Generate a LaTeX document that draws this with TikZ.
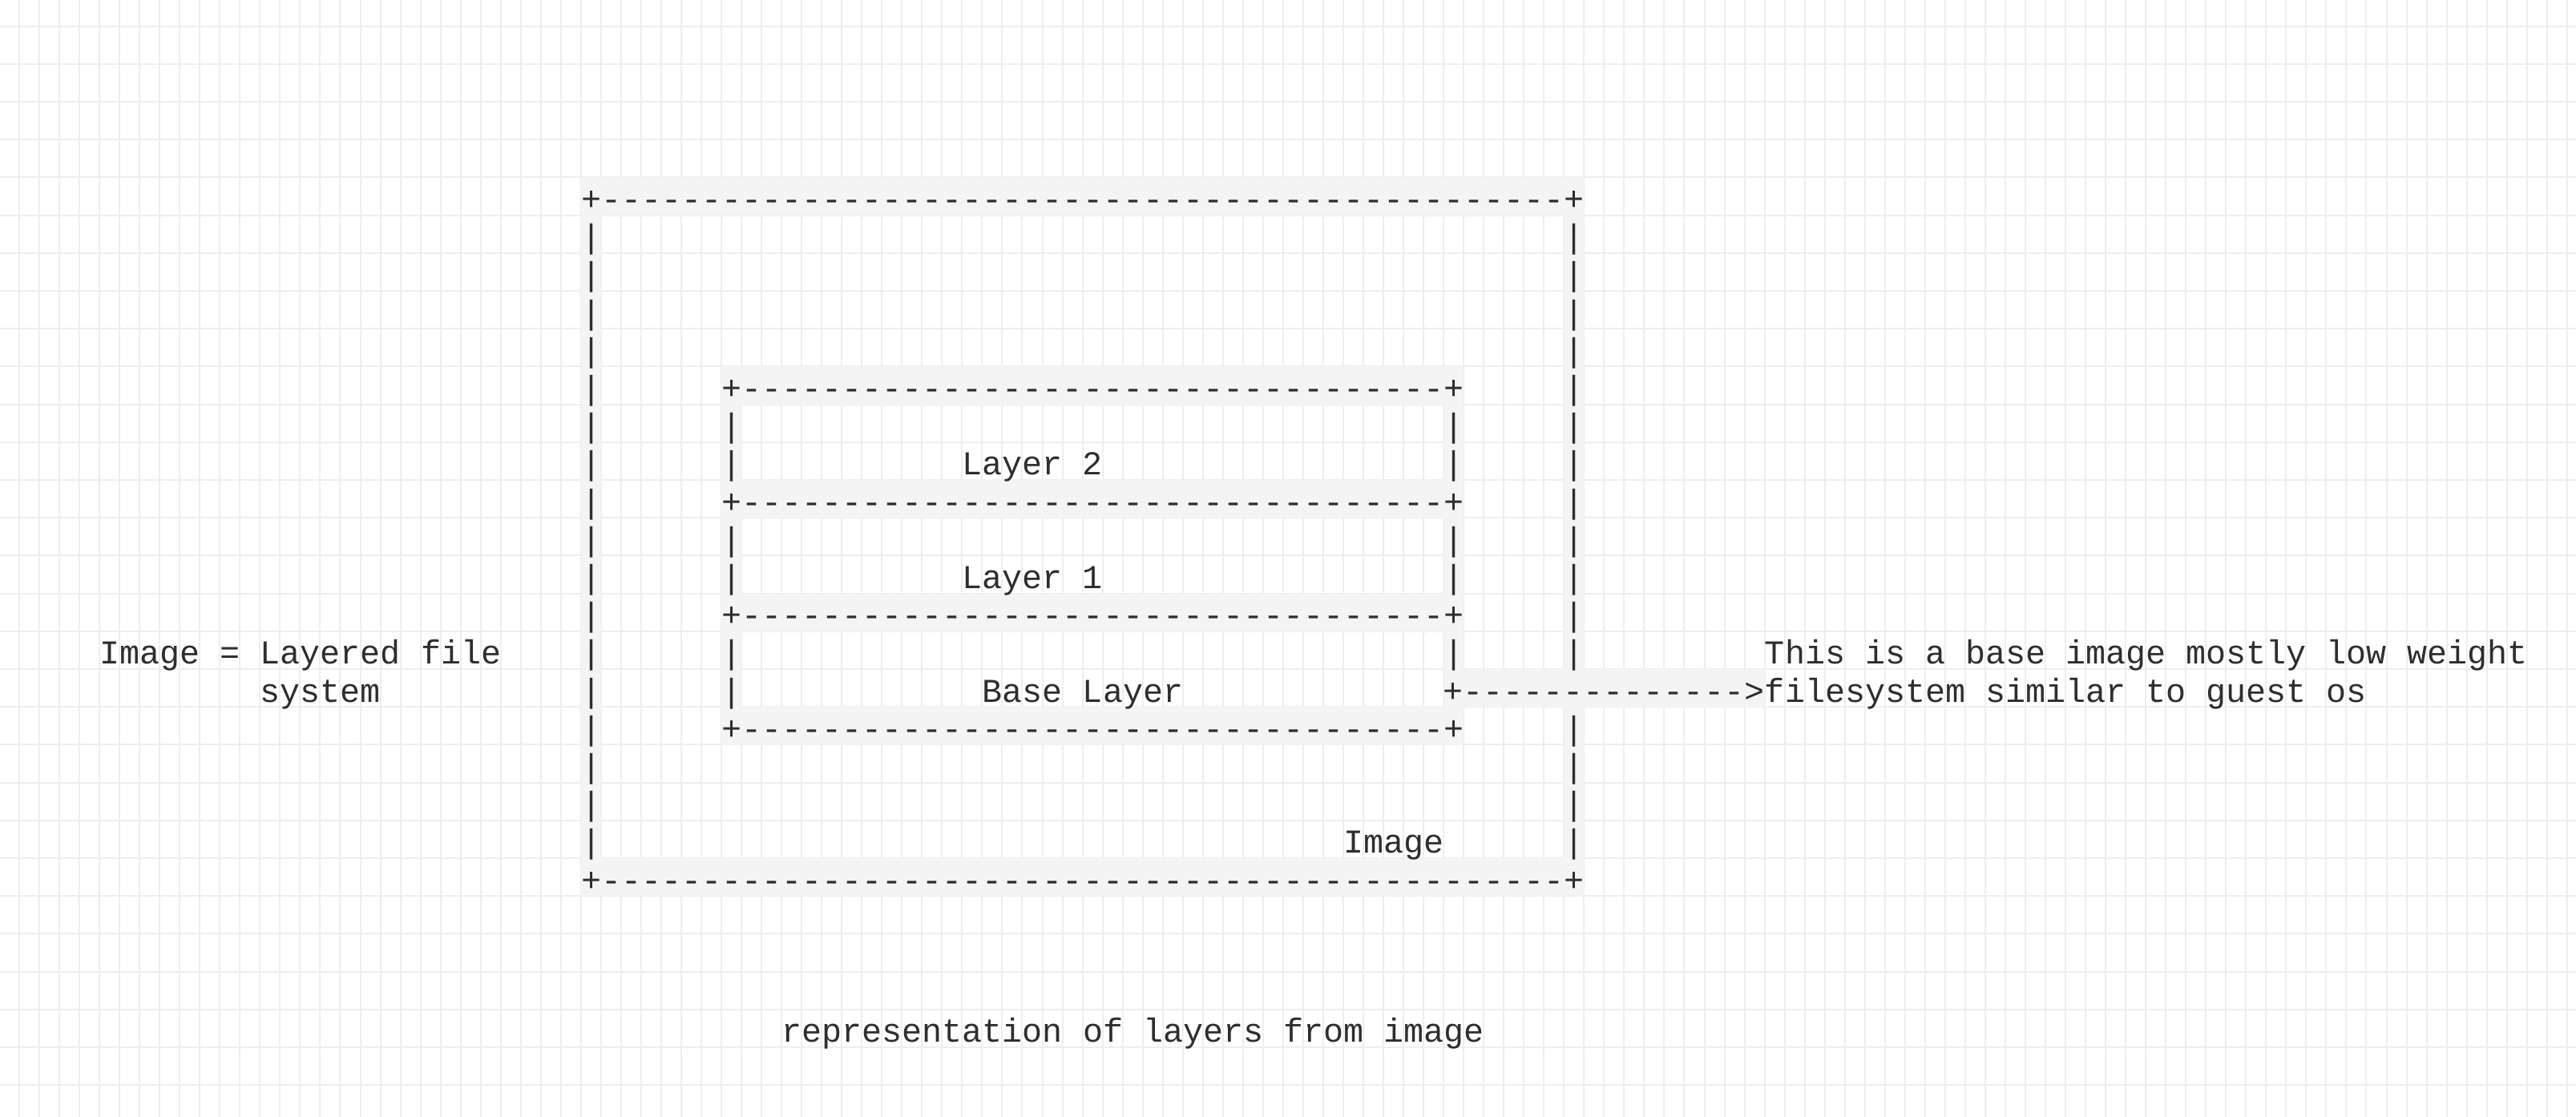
\documentclass[tikz,border=0pt]{standalone}
\usepackage{fontspec}
\setmonofont{Liberation Mono}
\definecolor{ink}{HTML}{2E2E2E}
\definecolor{gridgray}{HTML}{EEEEEE}
\definecolor{bandgray}{HTML}{F4F4F4}

\begin{document}
\begin{tikzpicture}[x=12.515pt, y=-23.6pt,
    chars/.style={font=\ttfamily\fontsize{20.86pt}{23.6pt}\selectfont, text=ink, inner sep=0pt, anchor=base west},
    band/.style={fill=bandgray},
    gridline/.style={draw=gridgray, line width=1pt}]
    \useasboundingbox[fill=white] (-0.959, -0.693) rectangle (127.45, 28.84);
    \foreach \i in {0,...,127} \draw[gridline] (\i, -0.693) -- (\i, 28.84);
    \foreach \j in {0,...,28} \draw[gridline] (-0.959, \j) -- (127.45, \j);
    % shaded cells behind the ascii borders
    \fill[band] (28, 4) rectangle (78, 5);
    \fill[band] (28, 22) rectangle (78, 23);
    \fill[band] (28, 5) rectangle (29, 22);
    \fill[band] (77, 5) rectangle (78, 22);
    \fill[band] (35, 9) rectangle (72, 10);
    \fill[band] (35, 12) rectangle (72, 13);
    \fill[band] (35, 15) rectangle (72, 16);
    \fill[band] (35, 18) rectangle (72, 19);
    \fill[band] (35, 10) rectangle (36, 18);
    \fill[band] (71, 10) rectangle (72, 18);
    \fill[band] (72, 17) rectangle (87, 18);
    % image box
    \node[chars] (otop) at (28, 4.87) {+------------------------------------------------+};
    \node[chars] (obot) at (28, 22.87) {+------------------------------------------------+};
    \foreach \r in {5,...,21} \node[chars] (ol\r) at (28, \r+0.87) {|};
    \foreach \r in {5,...,16,18,19,20,21} \node[chars] (or\r) at (77, \r+0.87) {|};
    % layer boxes
    \node[chars] (itop) at (35, 9.87) {+-----------------------------------+};
    \node[chars] (isep2) at (35, 12.87) {+-----------------------------------+};
    \node[chars] (isep1) at (35, 15.87) {+-----------------------------------+};
    \node[chars] (ibot) at (35, 18.87) {+-----------------------------------+};
    \foreach \r in {10,11,13,14,16,17} \node[chars] (il\r) at (35, \r+0.87) {|};
    \foreach \r in {10,11,13,14,16} \node[chars] (ir\r) at (71, \r+0.87) {|};
    \node[chars] (lay2) at (47, 11.87) {Layer 2};
    \node[chars] (lay1) at (47, 14.87) {Layer 1};
    \node[chars] (base) at (48, 17.87) {Base Layer};
    \node[chars] (img) at (66, 21.87) {Image};
    % side notes
    \node[chars] (lhs1) at (4, 16.87) {Image = Layered file};
    \node[chars] (lhs2) at (12, 17.87) {system};
    \node[chars] (rhs1) at (87, 16.87) {This is a base image mostly low weight};
    \node[chars] (rhs2) at (87, 17.87) {filesystem similar to guest os};
    \node[chars, anchor=base east] (pointer) at (rhs2.base west) {+-------------->};
    \node[chars] (caption) at (38, 26.87) {representation of layers from image};
\end{tikzpicture}
\end{document}
